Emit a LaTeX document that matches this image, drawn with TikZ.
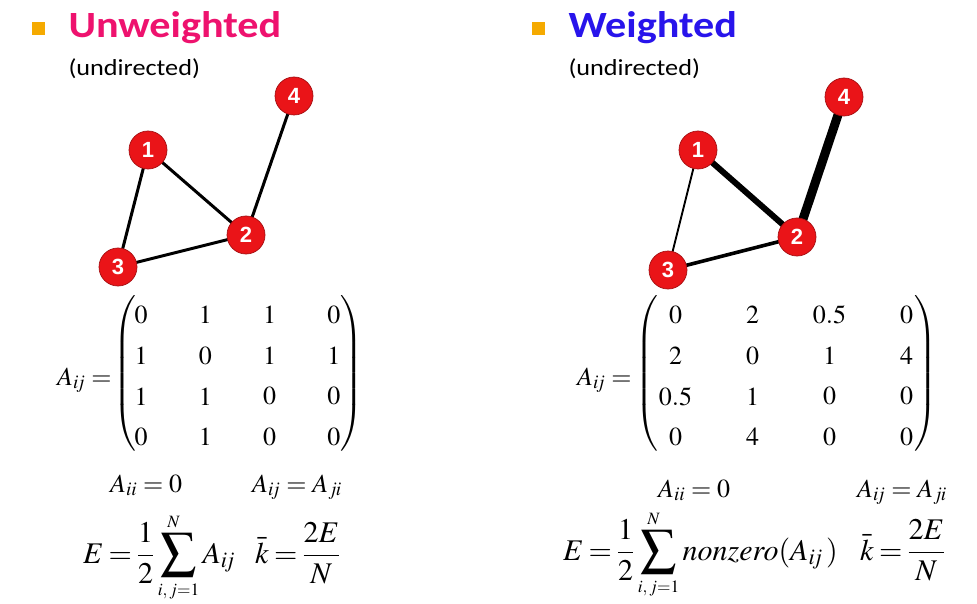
\documentclass[tikz,border=0pt]{standalone}
\usepackage{mathptmx}
\usepackage{graphicx}
\usepackage[no-math]{fontspec}
\newfontfamily\calibri{Carlito}
\newfontfamily\arialfont{Liberation Sans}
\usetikzlibrary{backgrounds,matrix}
\definecolor{pinkT}{RGB}{238,18,110}
\definecolor{blueT}{RGB}{40,20,235}
\definecolor{bulletO}{RGB}{245,170,0}
\definecolor{nodeR}{RGB}{234,20,24}
\newcommand\mysum{\mathop{\vcenter{\hbox{\scalebox{1.18}{$\displaystyle\sum$}}}}\limits}
\newcommand\sumlim[1]{\scalebox{0.78}{$\scriptstyle #1$}}
\newcommand\xs[1]{\scalebox{1.14}[1]{#1}}
\newcommand\mspA{\thickmuskip=4mu\relax}
\newcommand\mspB{\thickmuskip=3mu\relax\thinmuskip=2mu\relax}
\tikzset{
  vtx/.style={circle, fill=nodeR, draw=nodeR!70!black, line width=0.7pt, minimum size=38pt, inner sep=0pt, text=white, font=\arialfont\bfseries\fontsize{22}{22}\selectfont},
  ttl/.style={anchor=base west, inner sep=0pt, font=\calibri\bfseries\fontsize{37}{37}\selectfont},
  subttl/.style={anchor=base west, inner sep=0pt, font=\calibri\fontsize{23}{23}\selectfont},
  bul/.style={fill=bulletO, minimum size=13pt, inner sep=0pt},
  mth/.style={anchor=base west, inner sep=0pt, font=\fontsize{26}{30}\selectfont\mspA},
  mthb/.style={anchor=base west, inner sep=0pt, font=\fontsize{30}{34}\selectfont\mspB},
  delim/.style={inner sep=0pt, font=\fontsize{26}{30}\selectfont},
  edge/.style={line width=3pt},
  mat/.style={matrix of math nodes, inner sep=0pt, font=\fontsize{26}{30}\selectfont,
    nodes={inner sep=0pt, minimum height=40.7pt, anchor=center}},
}
\begin{document}
\begin{tikzpicture}[x=1pt,y=-1pt]
\useasboundingbox (0,0) rectangle (977,604);
\begin{scope}[on background layer]
\fill[white] (0,0) rectangle (977,604);
\end{scope}
% titles
\node[bul] (b1) at (38.3,28.3) {};
\node[ttl, text=pinkT] (t1) at (68.3,38) {\xs{Unweighted}};
\node[subttl] (s1) at (68.3,76) {\xs{(undirected)}};
\node[bul] (b2) at (538.3,28.3) {};
\node[ttl, text=blueT] (t2) at (568.3,38) {\xs{Weighted}};
\node[subttl] (s2) at (568.3,76) {\xs{(undirected)}};
% left graph
\node[vtx] (l1) at (148,150) {1};
\node[vtx] (l2) at (246,235) {2};
\node[vtx] (l3) at (118,267) {3};
\node[vtx] (l4) at (294,96) {4};
% right graph
\node[vtx] (r1) at (698,150) {1};
\node[vtx] (r2) at (797,237) {2};
\node[vtx] (r3) at (668,270) {3};
\node[vtx] (r4) at (844,97) {4};
\begin{scope}[on background layer]
\draw[edge] (l1.center) -- (l2.center);
\draw[edge] (l1.center) -- (l3.center);
\draw[edge] (l3.center) -- (l2.center);
\draw[edge] (l2.center) -- (l4.center);
\draw[line width=1.9pt] (r1.center) -- (r3.center);
\draw[line width=3.6pt] (r3.center) -- (r2.center);
\draw[line width=6pt] (r1.center) -- (r2.center);
\draw[line width=9pt] (r2.center) -- (r4.center);
\end{scope}
% left matrix
\node[mth] (la) at (57,385) {$A_{i\mkern-2mu j} =$};
\node[delim] (llp) at (125,373.5) {$\left(\rule[-71pt]{0pt}{142pt}\right.$};
\node[delim] (lrp) at (351,373.5) {$\left.\rule[-71pt]{0pt}{142pt}\right)$};
\matrix[mat, nodes={minimum width=64.3pt}] (lm) at (237.5,376) {
0 & 1 & 1 & 0 \\
1 & 0 & 1 & 1 \\
1 & 1 & 0 & 0 \\
0 & 1 & 0 & 0 \\
};
% right matrix
\node[mth] (ra) at (577,385) {$A_{i\mkern-2mu j} =$};
\node[delim] (rlp) at (647,373.5) {$\left(\rule[-71pt]{0pt}{142pt}\right.$};
\node[delim] (rrp) at (925,373.5) {$\left.\rule[-71pt]{0pt}{142pt}\right)$};
\matrix[mat, nodes={minimum width=77pt}] (rm) at (791,376) {
0 & 2 & 0.5 & 0 \\
2 & 0 & 1 & 4 \\
0.5 & 1 & 0 & 0 \\
0 & 4 & 0 & 0 \\
};
% left equations
\node[mth] (lq1) at (110,492) {$A_{ii} = 0$};
\node[mth] (lq2) at (252,492) {$A_{i\mkern-2mu j} = A_{j\mkern-1mu i}$};
\node[mthb] (lq3) at (83,563) {$\displaystyle E = \frac{1}{2}\mysum_{\sumlim{i,\,j=1}}^{\sumlim{N}} A_{i\mkern-2mu j}$};
\node[mthb] (lq4) at (255,563) {$\displaystyle \bar{k} = \frac{2E}{N}$};
% right equations
\node[mth] (rq1) at (658,497) {$A_{ii} = 0$};
\node[mth] (rq2) at (857,497) {$A_{i\mkern-2mu j} = A_{j\mkern-1mu i}$};
\node[mthb] (rq3) at (563,560) {$\displaystyle E = \frac{1}{2}\mysum_{\sumlim{i,\,j=1}}^{\sumlim{N}} nonzero(A_{i\mkern-2mu j}\,)$};
\node[mthb] (rq4) at (860,560) {$\displaystyle \bar{k} = \frac{2E}{N}$};
\end{tikzpicture}
\end{document}
